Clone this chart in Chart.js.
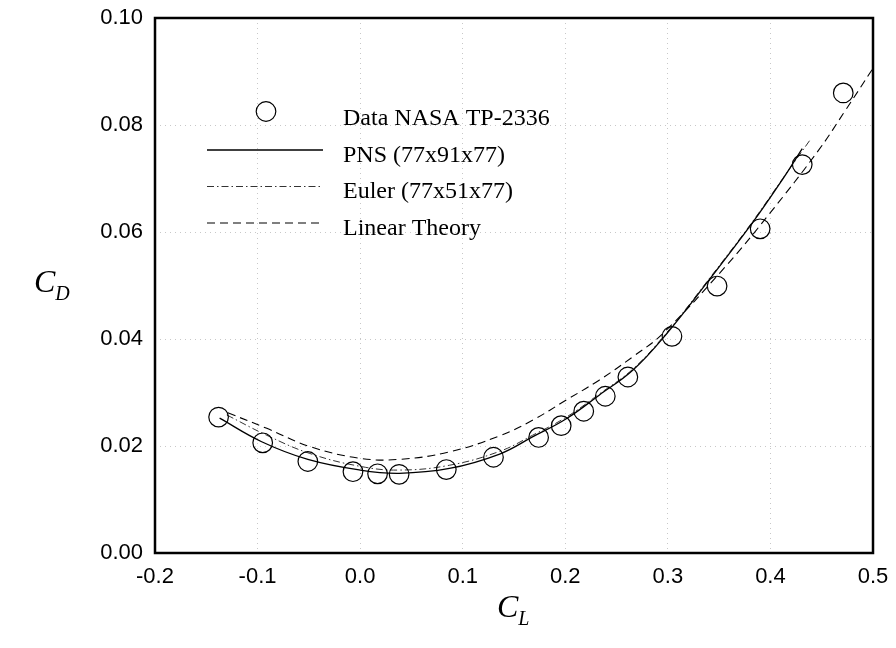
<!DOCTYPE html>
<html>
<head>
<meta charset="utf-8">
<title>CD vs CL</title>
<script src="https://cdn.jsdelivr.net/npm/chart.js@4/dist/chart.umd.min.js"></script>
<style>
  body { margin: 0; background: #fff; }
  #wrap { position: relative; width: 896px; height: 648px; }
  .axis-title {
    position: absolute;
    font-family: "Liberation Serif", "Times New Roman", serif;
    font-style: italic;
    font-size: 32px;
    line-height: 1;
    color: #000;
    white-space: nowrap;
  }
  .axis-title sub { font-size: 20px; vertical-align: -8px; }
</style>
</head>
<body>
<div id="wrap">
  <canvas id="chart" width="896" height="648"></canvas>
  <div class="axis-title" id="titleY" style="left:34px; top:265px;">C<sub>D</sub></div>
  <div class="axis-title" id="titleX" style="left:497px; top:590px;">C<sub>L</sub></div>
</div>
<script>
// ─── Données ─────────────────────────────
const xTicks = [-0.2, -0.1, 0.0, 0.1, 0.2, 0.3, 0.4, 0.5];
const yTicks = [0.00, 0.02, 0.04, 0.06, 0.08, 0.10];

// Data NASA TP-2336 (cercles)
const nasaCL = [-0.138, -0.095, -0.051, -0.007, 0.017, 0.038, 0.084, 0.130, 0.174, 0.196, 0.218, 0.239, 0.261, 0.304, 0.348, 0.390, 0.431, 0.471];
const nasaCD = [0.0254, 0.0206, 0.0171, 0.0152, 0.0148, 0.0147, 0.0156, 0.0179, 0.0216, 0.0238, 0.0265, 0.0293, 0.0329, 0.0405, 0.0499, 0.0606, 0.0726, 0.0860];

// PNS (77x91x77)
const pnsCL = [-0.137, -0.096, -0.051, 0.000, 0.038, 0.087, 0.136, 0.168, 0.201, 0.233, 0.266, 0.298, 0.340, 0.382, 0.412, 0.431];
const pnsCD = [0.0252, 0.0208, 0.0175, 0.0155, 0.0149, 0.0158, 0.0185, 0.0217, 0.0251, 0.0295, 0.0342, 0.0408, 0.0510, 0.0616, 0.0699, 0.0756];

// Euler (77x51x77)
const eulerCL = [-0.130, -0.091, -0.049, 0.000, 0.038, 0.087, 0.136, 0.168, 0.201, 0.233, 0.266, 0.298, 0.340, 0.382, 0.412, 0.439];
const eulerCD = [0.0258, 0.0220, 0.0186, 0.0162, 0.0155, 0.0164, 0.0190, 0.0220, 0.0254, 0.0297, 0.0344, 0.0410, 0.0512, 0.0618, 0.0700, 0.0773];

// Linear Theory
const linCL = [-0.129, -0.091, -0.049, 0.000, 0.038, 0.087, 0.136, 0.168, 0.201, 0.233, 0.266, 0.295, 0.356, 0.399, 0.447, 0.473, 0.500];
const linCD = [0.0262, 0.0233, 0.0199, 0.0177, 0.0175, 0.0189, 0.0219, 0.0248, 0.0286, 0.0323, 0.0367, 0.0410, 0.0535, 0.0634, 0.0753, 0.0827, 0.0906];

const toPoints = (xs, ys) => xs.map((x, i) => ({ x, y: ys[i] }));

// ─── Légende dans le cadre ───────────────
const insideLegend = {
  id: 'insideLegend',
  afterDatasetsDraw(chart) {
    const { ctx, chartArea: a } = chart;
    const x0 = a.left + 52, x1 = a.left + 168, tx = a.left + 188;
    const baseY = a.top + 107, step = 36.5;
    ctx.save();
    ctx.font = '24px "Liberation Serif", "Times New Roman", serif';
    ctx.fillStyle = '#000';
    ctx.textBaseline = 'alphabetic';
    chart.data.datasets.forEach((ds, i) => {
      const by = baseY + i * step;
      const ly = by - 11.5;
      ctx.strokeStyle = ds.borderColor;
      ctx.lineWidth = ds.borderWidth;
      if (ds.showLine) {
        ctx.setLineDash(ds.borderDash || []);
        ctx.beginPath();
        ctx.moveTo(x0, ly);
        ctx.lineTo(x1, ly);
        ctx.stroke();
      } else {
        ctx.setLineDash([]);
        ctx.beginPath();
        ctx.arc((x0 + x1) / 2 + 1, ly - 2, ds.pointRadius, 0, Math.PI * 2);
        ctx.stroke();
      }
      ctx.fillText(ds.label, tx, by);
    });
    ctx.restore();
  }
};

// ─── Cadre noir ──────────────────────────
const frame = {
  id: 'frame',
  afterDraw(chart) {
    const { ctx, chartArea: a } = chart;
    ctx.save();
    ctx.strokeStyle = '#000';
    ctx.lineWidth = 2.5;
    ctx.strokeRect(a.left, a.top, a.right - a.left, a.bottom - a.top);
    ctx.restore();
  }
};

const gridStyle = {
  color: '#c8c8c8',
  lineWidth: 1,
  drawTicks: false
};

// ─── Graphique ───────────────────────────
new Chart(document.getElementById('chart'), {
  type: 'scatter',
  data: {
    datasets: [
      {
        label: 'Data NASA TP-2336',
        data: toPoints(nasaCL, nasaCD),
        showLine: false,
        pointRadius: 9.8,
        pointHoverRadius: 9.8,
        pointBorderWidth: 1.2,
        borderWidth: 1.2,
        borderColor: '#000',
        pointBorderColor: '#000',
        pointBackgroundColor: 'rgba(0,0,0,0)',
        order: 0
      },
      {
        label: 'PNS (77x91x77)',
        data: toPoints(pnsCL, pnsCD),
        showLine: true,
        pointRadius: 0,
        borderColor: '#000',
        borderWidth: 1.3,
        tension: 0.4,
        order: 1
      },
      {
        label: 'Euler (77x51x77)',
        data: toPoints(eulerCL, eulerCD),
        showLine: true,
        pointRadius: 0,
        borderColor: '#333',
        borderWidth: 1,
        borderDash: [7, 3, 1.5, 3],
        tension: 0.4,
        order: 2
      },
      {
        label: 'Linear Theory',
        data: toPoints(linCL, linCD),
        showLine: true,
        pointRadius: 0,
        borderColor: '#000',
        borderWidth: 1.1,
        borderDash: [8, 5],
        tension: 0.4,
        order: 3
      }
    ]
  },
  options: {
    responsive: false,
    animation: false,
    layout: { padding: { left: 100, right: 23, top: 18, bottom: 55 } },
    plugins: {
      legend: { display: false },
      tooltip: { enabled: false }
    },
    scales: {
      x: {
        type: 'linear',
        min: xTicks[0],
        max: xTicks[xTicks.length - 1],
        afterBuildTicks: s => { s.ticks = xTicks.map(v => ({ value: v })); },
        afterFit: s => { s.height = 40; s.paddingLeft = 0; s.paddingRight = 0; },
        grid: gridStyle,
        border: { display: false, dash: [1, 4] },
        ticks: {
          color: '#000',
          padding: 11,
          font: { family: '"Liberation Sans", Arial, sans-serif', size: 22 },
          callback: v => v.toFixed(1)
        }
      },
      y: {
        type: 'linear',
        min: yTicks[0],
        max: yTicks[yTicks.length - 1],
        afterBuildTicks: s => { s.ticks = yTicks.map(v => ({ value: v })); },
        afterFit: s => { s.width = 55; s.paddingTop = 0; s.paddingBottom = 0; },
        grid: gridStyle,
        border: { display: false, dash: [1, 4] },
        ticks: {
          color: '#000',
          padding: 12,
          font: { family: '"Liberation Sans", Arial, sans-serif', size: 22 },
          callback: v => v.toFixed(2)
        }
      }
    }
  },
  plugins: [insideLegend, frame]
});
</script>
</body>
</html>
